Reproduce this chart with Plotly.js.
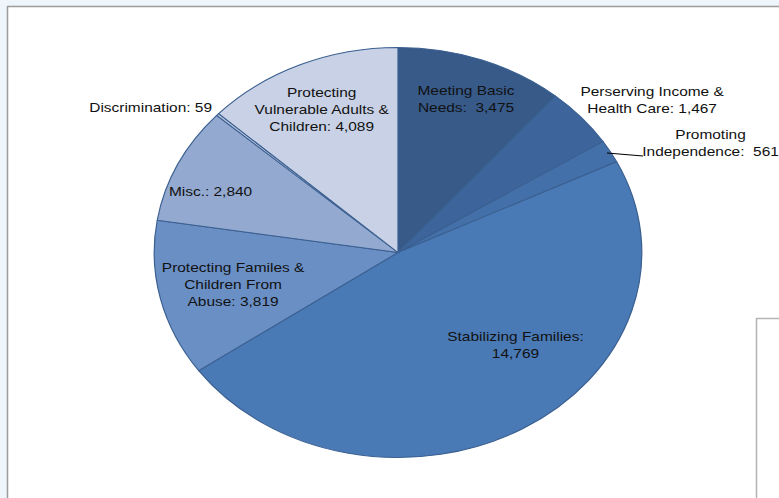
<!DOCTYPE html>
<html>
<head>
<meta charset="utf-8">
<script src="https://cdn.plot.ly/plotly-3.0.1.min.js"></script>
<style>
html,body{margin:0;padding:0;background:#ffffff;overflow:hidden;}
#chart{width:655px;height:498px;transform-origin:0 0;transform:scaleX(1.18931);}
</style>
</head>
<body>
<div id="chart"></div>
<script>
// ---- data ----
var categories = [
  "Meeting Basic Needs",
  "Perserving Income & Health Care",
  "Promoting Independence",
  "Stabilizing Families",
  "Protecting Familes & Children From Abuse",
  "Misc.",
  "Discrimination",
  "Protecting Vulnerable Adults & Children"
];
var values = [3475, 1467, 561, 14769, 3819, 2840, 59, 4089];
var labelTexts = [
  "Meeting Basic<br>Needs:  3,475",
  "Perserving Income &<br>Health Care: 1,467",
  "Promoting<br>Independence:  561",
  "Stabilizing Families:<br>14,769",
  "Protecting Familes &<br>Children From<br>Abuse: 3,819",
  "Misc.: 2,840",
  "Discrimination: 59",
  "Protecting<br>Vulnerable Adults &<br>Children: 4,089"
];
var sliceColors = ["#375a89","#3d659b","#4470aa","#4a7ab5","#6a8fc5","#93a9d0","#b9c5df","#c8d1e5"];

// ---- layout helpers (page is drawn at 655px wide and stretched to 779px) ----
var PW = 779, H = 498, DW = 655;
var X = function(px){ return px / PW; };   // target-pixel -> paper fraction
var Y = function(py){ return 1 - py / H; };
var cx = 398, cy = 252.5, r = 205;

var labelPos = [
  [466, 99], [652, 100], [711, 143], [516, 345],
  [233, 284], [211, 191], [150, 107], [322, 109]
];

var annotations = labelTexts.map(function(t, i){
  return {
    text: t, xref: "paper", yref: "paper",
    x: X(labelPos[i][0]), y: Y(labelPos[i][1]),
    xanchor: "center", yanchor: "middle", showarrow: false,
    align: "center",
    font: {family: "Liberation Sans, Arial, sans-serif", size: 13, color: "#111111"}
  };
});

var shapes = [
  {type:"rect", xref:"paper", yref:"paper", x0:0, x1:1, y0:Y(6), y1:1, fillcolor:"#eef5fb", line:{width:0}, layer:"below"},
  {type:"rect", xref:"paper", yref:"paper", x0:0, x1:X(7), y0:0, y1:1, fillcolor:"#eef5fb", line:{width:0}, layer:"below"},
  {type:"line", xref:"paper", yref:"paper", x0:X(7), x1:1, y0:Y(6.5), y1:Y(6.5), line:{color:"#9c9c9c", width:1.5}},
  {type:"line", xref:"paper", yref:"paper", x0:X(7.5), x1:X(7.5), y0:0, y1:Y(6), line:{color:"#9c9c9c", width:1.3}},
  {type:"line", xref:"paper", yref:"paper", x0:X(756.5), x1:X(756.5), y0:0, y1:Y(318), line:{color:"#b4b4b4", width:1.3}},
  {type:"line", xref:"paper", yref:"paper", x0:X(756), x1:1, y0:Y(318.5), y1:Y(318.5), line:{color:"#b4b4b4", width:1.5}},
  {type:"line", xref:"paper", yref:"paper", x0:X(607), x1:X(643), y0:Y(153), y1:Y(156), line:{color:"#000000", width:1}}
];

var trace = {
  type: "pie",
  labels: categories,
  values: values,
  sort: false,
  direction: "clockwise",
  rotation: 0,
  textinfo: "none",
  hoverinfo: "label+value",
  marker: {colors: sliceColors, line: {color: "#3a5f90", width: 1}},
  domain: {x: [X(cx) - r / DW, X(cx) + r / DW], y: [Y(cy + r), Y(cy - r)]},
  showlegend: false
};

var layout = {
  width: DW, height: H,
  margin: {l:0, r:0, t:0, b:0},
  paper_bgcolor: "#ffffff",
  showlegend: false,
  annotations: annotations,
  shapes: shapes
};

Plotly.newPlot("chart", [trace], layout, {displayModeBar:false, staticPlot:true});
</script>
</body>
</html>
